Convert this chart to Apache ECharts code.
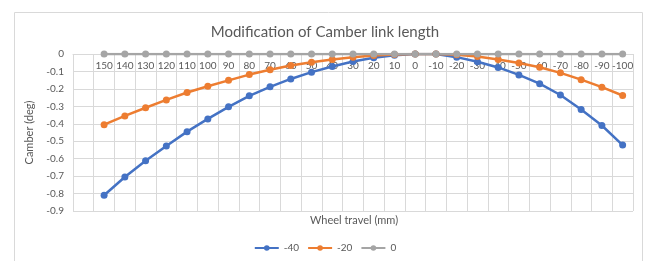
<!DOCTYPE html>
<html>
<head>
<meta charset="utf-8">
<script src="https://cdn.jsdelivr.net/npm/echarts@6/dist/echarts.min.js"></script>
<style>
  html, body { margin: 0; padding: 0; background: #fff; }
  #chart { width: 650px; height: 261px; }
</style>
</head>
<body>
<div id="chart"></div>
<script>
// wheel travel (mm); first column is blank in the source sheet
const travel = ['', '150', '140', '130', '120', '110', '100', '90', '80', '70', '60', '50', '40', '30', '20', '10',
  '0', '-10', '-20', '-30', '-40', '-50', '-60', '-70', '-80', '-90', '-100'];

const seriesNames = ['-40', '-20', '0'];

const camberM40 = [null, -0.81, -0.705, -0.612, -0.527, -0.445, -0.372, -0.303, -0.24, -0.188, -0.143, -0.104,
  -0.072, -0.043, -0.021, -0.007, 0, 0, -0.018, -0.044, -0.077, -0.12, -0.17, -0.235, -0.318, -0.41, -0.522];

const camberM20 = [null, -0.405, -0.355, -0.308, -0.263, -0.221, -0.185, -0.151, -0.118, -0.09, -0.066, -0.047,
  -0.031, -0.018, -0.009, -0.003, 0, 0, -0.004, -0.014, -0.031, -0.052, -0.076, -0.108, -0.147, -0.19, -0.238];

const camber0 = [null, 0, 0, 0, 0, 0, 0, 0, 0, 0, 0, 0, 0, 0, 0, 0, 0, 0, 0, 0, 0, 0, 0, 0, 0, 0, 0];

const colors = ['#4472C4', '#ED7D31', '#A5A5A5'];
const font = 'Lato, "Open Sans", sans-serif';
const textGray = '#595959';
const gridGray = '#d9d9d9';

const chart = echarts.init(document.getElementById('chart'));

function lineSeries(name, data, color) {
  return {
    name, type: 'line', data,
    symbol: 'circle', symbolSize: 7,
    lineStyle: { width: 2.5, color },
    itemStyle: { color },
    emphasis: { disabled: true },
    z: 2
  };
}

chart.setOption({
  animation: false,
  textStyle: { fontFamily: font },
  graphic: [
    { type: 'rect', left: 12, top: 10, silent: true,
      shape: { width: 628, height: 250 },
      style: { fill: 'none', stroke: gridGray, lineWidth: 1 } },
    // x axis title sits under the plot, the axis line itself is at the top (y = 0)
    { type: 'text', x: 354, y: 220, silent: true,
      style: { text: 'Wheel travel (mm)', align: 'center', verticalAlign: 'middle',
        font: '11px ' + font, fill: textGray } }
  ],
  title: {
    text: 'Modification of Camber link length', left: 'center', top: 20,
    textStyle: { fontFamily: font, fontSize: 15, fontWeight: 'normal', color: textGray }
  },
  legend: {
    bottom: 3, left: 'center',
    itemWidth: 24, itemHeight: 7, itemGap: 8,
    textStyle: { fontFamily: font, fontSize: 10, color: textGray },
    data: seriesNames
  },
  grid: { left: 73, right: 17, top: 54, bottom: 50 },
  xAxis: {
    type: 'category', data: travel, boundaryGap: true, position: 'top',
    axisLine: { onZero: false, lineStyle: { color: gridGray } },
    axisTick: { show: false },
    axisLabel: { inside: true, interval: 0, fontSize: 10, color: textGray, margin: 7, fontFamily: font },
    splitLine: { show: true, interval: 0, lineStyle: { color: gridGray } }
  },
  yAxis: {
    type: 'value', min: -0.9, max: 0, interval: 0.1,
    name: 'Camber (deg)', nameLocation: 'middle', nameGap: 33, nameRotate: 90,
    nameTextStyle: { fontSize: 11, color: textGray, fontFamily: font },
    axisLine: { show: false }, axisTick: { show: false },
    axisLabel: { fontSize: 10, color: textGray, fontFamily: font, margin: 9,
      formatter: v => String(+v.toFixed(1)) },
    splitLine: { lineStyle: { color: gridGray } }
  },
  series: [
    lineSeries(seriesNames[0], camberM40, colors[0]),
    lineSeries(seriesNames[1], camberM20, colors[1]),
    lineSeries(seriesNames[2], camber0, colors[2])
  ]
});
</script>
</body>
</html>
